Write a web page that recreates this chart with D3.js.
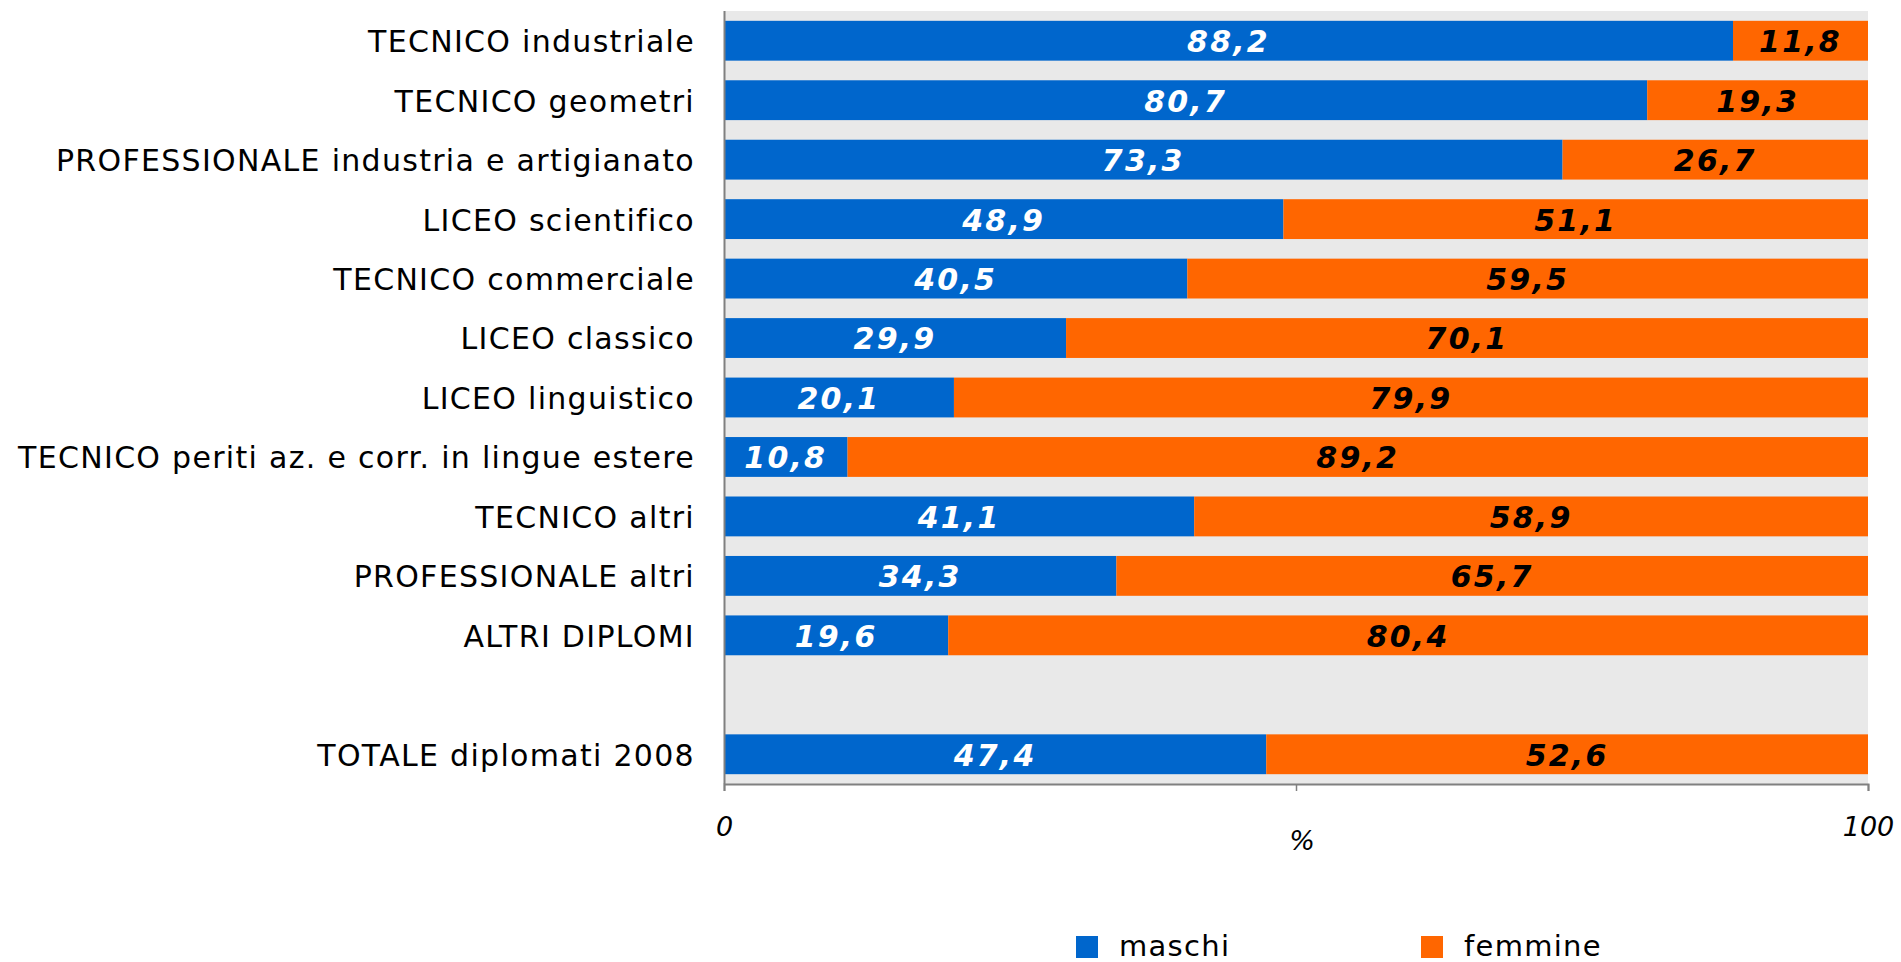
<!DOCTYPE html>
<html>
<head>
<meta charset="utf-8">
<script src="https://cdn.jsdelivr.net/npm/d3@7"></script>
<style>
  body { margin: 0; background: #fff; }
  svg text { font-family: "DejaVu Sans", Verdana, sans-serif; }
</style>
</head>
<body>
<svg id="chart" width="1901" height="962"></svg>
<script>
// categories, top to bottom ("" is the empty spacer row)
var categories = [
  "TECNICO industriale",
  "TECNICO geometri",
  "PROFESSIONALE industria e artigianato",
  "LICEO scientifico",
  "TECNICO commerciale",
  "LICEO classico",
  "LICEO linguistico",
  "TECNICO periti az. e corr. in lingue estere",
  "TECNICO altri",
  "PROFESSIONALE altri",
  "ALTRI DIPLOMI",
  "",
  "TOTALE diplomati 2008"
];
var maschi  = [88.2, 80.7, 73.3, 48.9, 40.5, 29.9, 20.1, 10.8, 41.1, 34.3, 19.6, null, 47.4];
var femmine = [11.8, 19.3, 26.7, 51.1, 59.5, 70.1, 79.9, 89.2, 58.9, 65.7, 80.4, null, 52.6];
var seriesNames = ["maschi", "femmine"];
var xTicks = [0, 50, 100];

var colors = { maschi: "#0066CC", femmine: "#FF6600" };
var it = d3.formatLocale({ decimal: ",", thousands: ".", grouping: [3], currency: ["", " €"] });
var fmt = it.format(".1f");

var margin = { top: 11, left: 724, right: 33, bottom: 178 };
var width = 1901 - margin.left - margin.right,
    height = 962 - margin.top - margin.bottom;

var svg = d3.select("#chart");
var g = svg.append("g").attr("transform", "translate(" + margin.left + "," + margin.top + ")");

var x = d3.scaleLinear().domain([0, 100]).range([0, width]);
var y = d3.scaleBand().domain(categories).range([0, height]).paddingInner(0.33).paddingOuter(0.165);

// build stacked rows
var rows = categories.map(function(c, i) {
  return { cat: c, maschi: maschi[i], femmine: femmine[i] };
}).filter(function(d) { return d.maschi !== null; });
var stack = d3.stack().keys(seriesNames)(rows);

// plot background
g.append("rect")
  .attr("width", width)
  .attr("height", height)
  .attr("fill", "#E9E9E9");

var layers = g.selectAll(".layer")
  .data(stack)
  .enter().append("g")
  .attr("class", "layer")
  .attr("fill", function(d) { return colors[d.key]; });

layers.selectAll("rect")
  .data(function(d) { return d; })
  .enter().append("rect")
  .attr("x", function(d) { return x(d[0]); })
  .attr("width", function(d) { return x(d[1]) - x(d[0]); })
  .attr("y", function(d) { return y(d.data.cat); })
  .attr("height", y.bandwidth());

// value labels
layers.selectAll("text")
  .data(function(d) { return d.map(function(v) { v.key = d.key; return v; }); })
  .enter().append("text")
  .attr("x", function(d) { return (x(d[0]) + x(d[1])) / 2; })
  .attr("y", function(d) { return y(d.data.cat) + y.bandwidth() / 2; })
  .attr("dy", "0.38em")
  .attr("text-anchor", "middle")
  .style("font-size", "30px")
  .style("font-weight", "bold")
  .style("font-style", "italic")
  .style("letter-spacing", "2.2px")
  .attr("fill", function(d) { return d.key === "maschi" ? "#fff" : "#000"; })
  .text(function(d) { return fmt(d[1] - d[0]); });

// category axis
var yAxis = g.append("g")
  .call(d3.axisLeft(y).tickSize(0).tickPadding(29));
yAxis.select(".domain").remove();
yAxis.selectAll("text")
  .attr("fill", "#000")
  .attr("dy", "0.38em")
  .style("font-size", "30px")
  .style("letter-spacing", "1.3px")
  .style("font-family", "'DejaVu Sans', Verdana, sans-serif");

g.append("line")
  .attr("x1", 0.5).attr("x2", 0.5)
  .attr("y1", 0).attr("y2", height)
  .attr("stroke", "#808080").attr("stroke-width", 2);

// value axis
var xAxis = g.append("g")
  .attr("transform", "translate(0," + height + ")")
  .call(d3.axisBottom(x).tickValues(xTicks).tickSize(7).tickPadding(26)
    .tickFormat(function(d) { return d === 50 ? "" : d; }));
xAxis.select(".domain").attr("stroke", "#808080").attr("stroke-width", 2);
xAxis.selectAll(".tick line").attr("stroke", "#808080").attr("stroke-width", 1.5);
xAxis.selectAll("text")
  .attr("fill", "#000")
  .style("font-size", "27px")
  .style("font-style", "italic")
  .style("font-family", "'DejaVu Sans', Verdana, sans-serif");

g.append("text")
  .attr("x", x(50) + 6)
  .attr("y", height + 66)
  .attr("text-anchor", "middle")
  .style("font-size", "27px")
  .style("font-style", "italic")
  .text("%");

// legend
var legend = svg.append("g").attr("transform", "translate(1076,936)");
var legItem = legend.selectAll("g")
  .data(seriesNames)
  .enter().append("g")
  .attr("transform", function(d, i) { return "translate(" + (i * 345) + ",0)"; });
legItem.append("rect")
  .attr("width", 22).attr("height", 22)
  .attr("fill", function(d) { return colors[d]; });
legItem.append("text")
  .attr("x", 43)
  .attr("y", 20)
  .style("font-size", "29px")
  .style("letter-spacing", "1.3px")
  .text(function(d) { return d; });
</script>
</body>
</html>
